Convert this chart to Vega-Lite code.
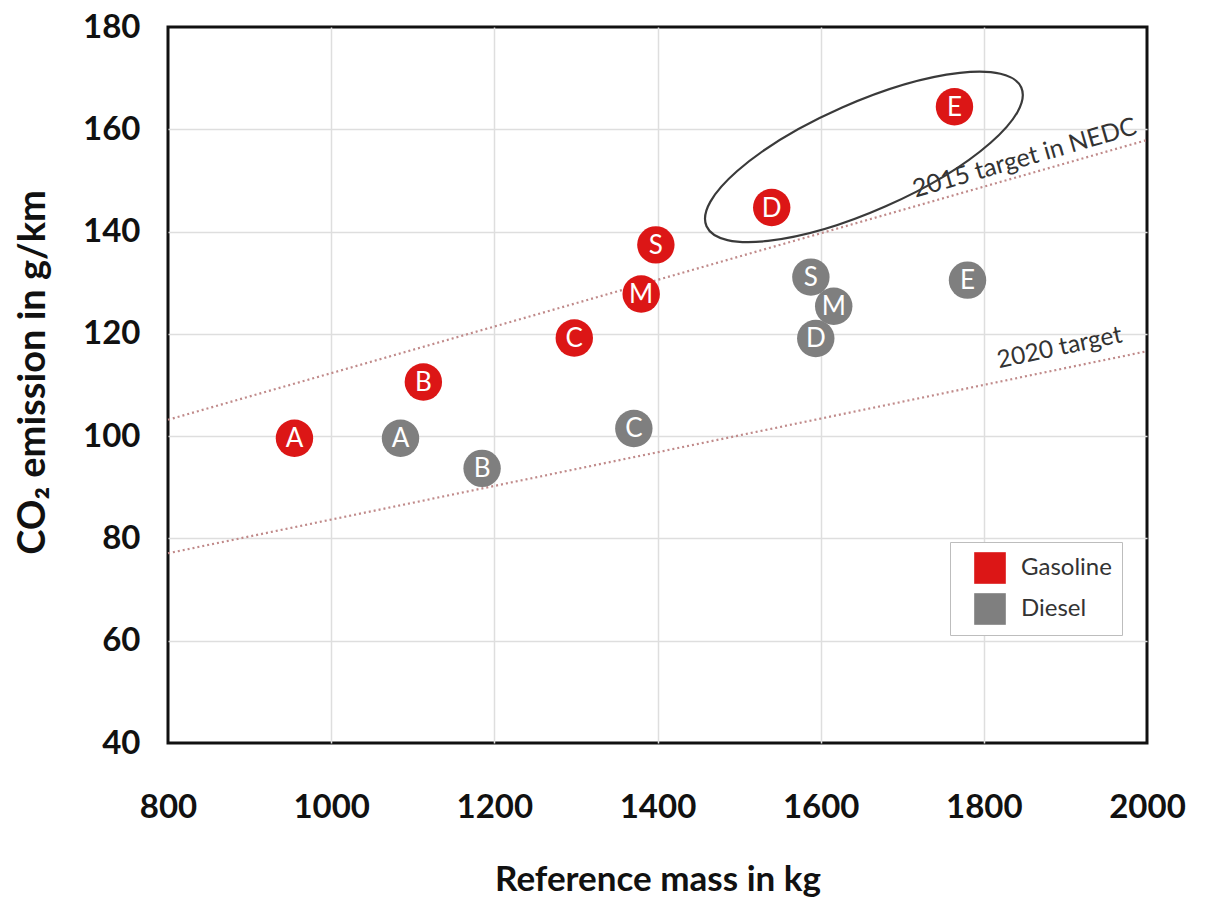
{
  "$schema": "https://vega.github.io/schema/vega-lite/v6.json",
  "description": "CO2 emission vs reference mass, gasoline and diesel car segments",
  "width": 979,
  "height": 716,
  "autosize": {"type": "none"},
  "padding": {"left": 168, "top": 27, "right": 64, "bottom": 166},
  "background": "white",
  "datasets": {
    "cars": [
      {"fuel": "Gasoline", "segment": "A", "mass": 955, "co2": 99.6},
      {"fuel": "Gasoline", "segment": "B", "mass": 1113, "co2": 110.6},
      {"fuel": "Gasoline", "segment": "C", "mass": 1298, "co2": 119.2},
      {"fuel": "Gasoline", "segment": "M", "mass": 1380, "co2": 127.8},
      {"fuel": "Gasoline", "segment": "S", "mass": 1398, "co2": 137.4},
      {"fuel": "Gasoline", "segment": "D", "mass": 1540, "co2": 144.7},
      {"fuel": "Gasoline", "segment": "E", "mass": 1764, "co2": 164.4},
      {"fuel": "Diesel", "segment": "A", "mass": 1085, "co2": 99.6},
      {"fuel": "Diesel", "segment": "B", "mass": 1185, "co2": 93.7},
      {"fuel": "Diesel", "segment": "C", "mass": 1371, "co2": 101.5},
      {"fuel": "Diesel", "segment": "S", "mass": 1588, "co2": 131.1},
      {"fuel": "Diesel", "segment": "M", "mass": 1616, "co2": 125.4},
      {"fuel": "Diesel", "segment": "D", "mass": 1594, "co2": 119.1},
      {"fuel": "Diesel", "segment": "E", "mass": 1780, "co2": 130.5}
    ],
    "targets": [
      {"target": "2015 target in NEDC", "mass": 800, "co2": 103.2},
      {"target": "2015 target in NEDC", "mass": 2000, "co2": 157.9},
      {"target": "2020 target", "mass": 800, "co2": 77.1},
      {"target": "2020 target", "mass": 2000, "co2": 116.6}
    ]
  },
  "encoding": {
    "x": {
      "field": "mass",
      "type": "quantitative",
      "scale": {"domain": [800, 2000], "nice": false},
      "axis": {
        "title": "Reference mass in kg",
        "values": [800, 1000, 1200, 1400, 1600, 1800, 2000],
        "format": "d",
        "labelPadding": 48,
        "titlePadding": 38,
        "gridOpacity": {"condition": {"test": "datum.value == 800 || datum.value == 2000", "value": 0}, "value": 1}
      }
    },
    "y": {
      "field": "co2",
      "type": "quantitative",
      "scale": {"domain": [40, 180], "nice": false, "zero": false},
      "axis": {
        "title": "CO₂ emission in g/km",
        "values": [40, 60, 80, 100, 120, 140, 160, 180],
        "format": "d",
        "labelPadding": 28,
        "titlePadding": 30,
        "titleY": 345,
        "titleFontSize": 38,
        "gridOpacity": {"condition": {"test": "datum.value == 40 || datum.value == 180", "value": 0}, "value": 1}
      }
    }
  },
  "layer": [
    {
      "data": {"name": "targets"},
      "mark": {"type": "line", "color": "#c08a8a", "strokeWidth": 2.2, "strokeDash": [2, 3]},
      "encoding": {"detail": {"field": "target"}}
    },
    {
      "data": {"name": "cars"},
      "mark": {"type": "circle", "size": 1400, "opacity": 1},
      "encoding": {
        "color": {
          "field": "fuel",
          "type": "nominal",
          "scale": {"domain": ["Gasoline", "Diesel"], "range": ["#dc1616", "#7f7f7f"]},
          "legend": {"title": null}
        }
      }
    },
    {
      "data": {"name": "cars"},
      "mark": {"type": "text", "color": "white", "font": "Lato", "fontSize": 26, "baseline": "middle", "dy": 1},
      "encoding": {"text": {"field": "segment"}}
    },
    {
      "data": {"values": [{"label": "2015 target in NEDC", "mass": 1850, "co2": 154.4}]},
      "mark": {"type": "text", "color": "#333333", "font": "Lato", "fontSize": 25, "angle": -16, "baseline": "middle"},
      "encoding": {"text": {"field": "label"}}
    },
    {
      "data": {"values": [{"label": "2020 target", "mass": 1893, "co2": 117.2}]},
      "mark": {"type": "text", "color": "#333333", "font": "Lato", "fontSize": 24.5, "angle": -12, "baseline": "middle"},
      "encoding": {"text": {"field": "label"}}
    },
    {
      "data": {"values": [{"mass": 1653, "co2": 154.6}]},
      "mark": {
        "type": "point",
        "shape": "M1,0C1,0.1734,0.5523,0.314,0,0.314C-0.5523,0.314,-1,0.1734,-1,0C-1,-0.1734,-0.5523,-0.314,0,-0.314C0.5523,-0.314,1,-0.1734,1,0Z",
        "size": 118336,
        "angle": -23.8,
        "filled": false,
        "opacity": 1,
        "color": "#3a3a3a",
        "strokeWidth": 2.2
      }
    }
  ],
  "config": {
    "view": {"stroke": "#111111", "strokeWidth": 3},
    "axis": {
      "ticks": false,
      "domain": false,
      "grid": true,
      "gridColor": "#dedede",
      "gridWidth": 1.5,
      "labelFont": "Lato",
      "labelFontSize": 33,
      "labelFontWeight": "bold",
      "labelColor": "#111111",
      "labelFlush": false,
      "labelOverlap": false,
      "titleFont": "Lato",
      "titleFontSize": 35,
      "titleFontWeight": "bold",
      "titleColor": "#111111"
    },
    "legend": {
      "orient": "none",
      "legendX": 782,
      "legendY": 515,
      "symbolType": "square",
      "symbolSize": 1000,
      "symbolStrokeWidth": 0,
      "symbolOpacity": 1,
      "symbolOffset": 14,
      "labelOffset": 15,
      "rowPadding": 9,
      "padding": 10,
      "labelFont": "Lato",
      "labelFontSize": 24,
      "labelColor": "#333333",
      "strokeColor": "#bdbdbd",
      "fillColor": "white"
    }
  }
}
